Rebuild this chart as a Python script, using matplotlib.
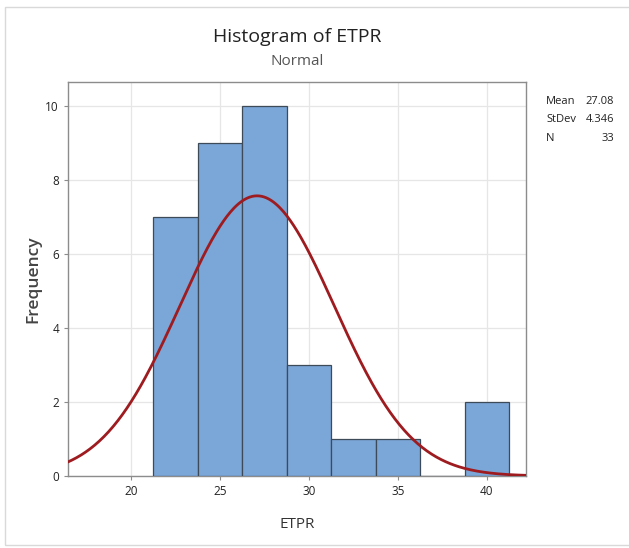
import numpy as np
import matplotlib
matplotlib.use("Agg")
import matplotlib.pyplot as plt
from matplotlib.patches import Rectangle

# Data
bin_edges = [21.25, 23.75, 26.25, 28.75, 31.25, 33.75, 36.25, 38.75, 41.25]
counts = [7, 9, 10, 3, 1, 1, 0, 2]
mean = 27.08
stdev = 4.346
n = 33
x_ticks = [20, 25, 30, 35, 40]
y_ticks = [0, 2, 4, 6, 8, 10]

plt.rcParams['font.family'] = ['Open Sans', 'DejaVu Sans']

fig = plt.figure(figsize=(6.29, 5.48), dpi=100)
fig.patch.set_facecolor('white')
# outer frame
fig.add_artist(Rectangle((5/629, 3/548), 640/629, 538/548, transform=fig.transFigure,
                         fill=False, edgecolor='#d9d9d9', lw=1.0))

ax = fig.add_axes([68/629, 1-476/548, (526-68)/629, (476-82)/548])

lefts = bin_edges[:-1]
widths = np.diff(bin_edges)
ax.bar(lefts, counts, width=widths, align='edge', color='#7BA6D8',
       edgecolor='#3d4a57', linewidth=0.9, zorder=3)

xs = np.linspace(16.4, 42.2, 400)
bw = widths[0]
ys = n * bw * np.exp(-0.5 * ((xs - mean) / stdev) ** 2) / (stdev * np.sqrt(2 * np.pi))
ax.plot(xs, ys, color='#9E1C20', lw=2.0, zorder=4)

ax.set_xlim(16.45, 42.2)
ax.set_ylim(0, 10.65)
ax.set_xticks(x_ticks)
ax.set_yticks(y_ticks)
ax.grid(True, color='#e6e6e6', lw=0.9, zorder=0)
ax.set_axisbelow(True)
for s in ax.spines.values():
    s.set_color('#8c8c8c')
    s.set_linewidth(1.0)
ax.tick_params(axis='both', labelsize=8.5, colors='#8c8c8c', labelcolor='#222222',
               length=3, width=0.8)

ax.set_xlabel('ETPR', fontsize=11, color='#333333', labelpad=14)
ax.set_ylabel('Frequency', fontsize=12.5, color='#444444', labelpad=3, fontweight='semibold')

fig.text(0.5 * (68 + 526) / 629, 1 - 37/548, 'Histogram of ETPR', ha='center', va='center',
         fontsize=14, color='#222222')
fig.text(0.5 * (68 + 526) / 629, 1 - 61/548, 'Normal', ha='center', va='center',
         fontsize=11, color='#555555')

labels = ['Mean', 'StDev', 'N']
vals = [f'{mean:.2f}', f'{stdev:.3f}', f'{n}']
for i, (l, v) in enumerate(zip(labels, vals)):
    y = 1 - (101 + 19 * i) / 548
    fig.text(546/629, y, l, ha='left', va='center', fontsize=8, color='#222222')
    fig.text(614/629, y, v, ha='right', va='center', fontsize=8, color='#222222')

fig.savefig('out.png', dpi=100)
